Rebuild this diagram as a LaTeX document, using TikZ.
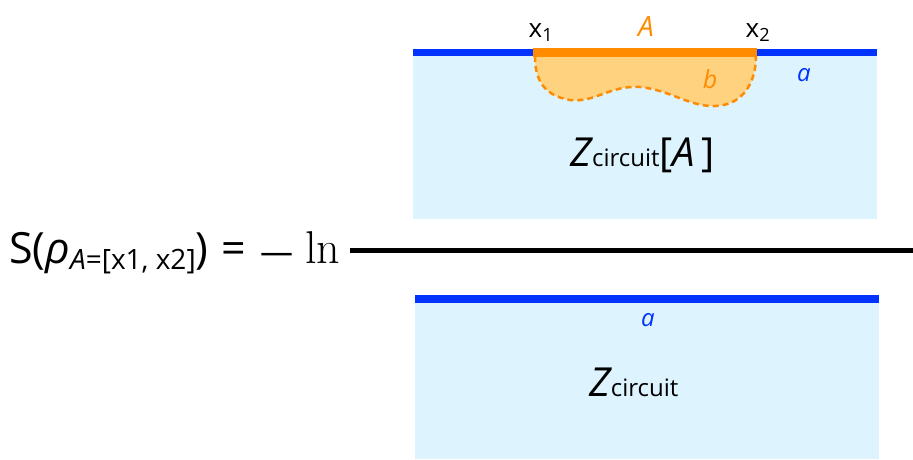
\documentclass[tikz,border=0pt]{standalone}
\usepackage{fontspec}
\setmainfont{Open Sans}
\usepackage{tikz}

\definecolor{boxblue}{RGB}{221,243,253}
\definecolor{lineblue}{RGB}{0,51,255}
\definecolor{regorange}{RGB}{255,140,0}
\definecolor{regfill}{RGB}{255,210,127}

\tikzset{
  lbl/.style = {inner sep = 0pt, anchor = base},
  boundary/.style = {line width = 7pt, lineblue},
}

\begin{document}
\begin{tikzpicture}[x = 1pt, y = -1pt]
\useasboundingbox (0,0) rectangle (913,459);
% upper box
\fill [boxblue] (413,52) rectangle (877,219);
\fill [regfill] (535,56) .. controls (535,75) and (540,95) .. (570,100)
  .. controls (595,103) and (610,85) .. (640,87)
  .. controls (670,90) and (690,107) .. (715,106)
  .. controls (745,105) and (756,80) .. (756,56) -- cycle;
\draw [regorange, line width = 2.5pt, dash pattern = on 6pt off 4pt]
  (535,56) .. controls (535,75) and (540,95) .. (570,100)
  .. controls (595,103) and (610,85) .. (640,87)
  .. controls (670,90) and (690,107) .. (715,106)
  .. controls (745,105) and (756,80) .. (756,56);
\draw [boundary] (413,52) -- (877,52);
\draw [line width = 9pt, regorange] (533,52) -- (757,52);
\node [lbl] (x1) at (541,37) {\fontsize{26}{30}\selectfont x\textsubscript{1}};
\node [lbl] (A) at (646,36) {\fontsize{28}{30}\selectfont\color{regorange}\itshape A};
\node [lbl] (x2) at (758,37) {\fontsize{26}{30}\selectfont x\textsubscript{2}};
\node [lbl] (b) at (710,88) {\fontsize{25}{30}\selectfont\color{regorange}\itshape b};
\node [lbl] (a1) at (804,81) {\fontsize{24}{30}\selectfont\color{lineblue}\itshape a};
\node [lbl] (ZA) at (643,166) {\fontsize{40}{44}\selectfont{\itshape Z}{\fontsize{24}{28}\selectfont circuit}[{\itshape A}\,]};
% fraction bar
\draw [line width = 5pt] (350,250) -- (913,250);
\node [lbl, anchor = base west] (S) at (9,263) {\fontsize{43}{46}\selectfont S({\itshape ρ}\raisebox{-6pt}{\fontsize{28}{30}\selectfont{\itshape A}=[x1, x2]})\hspace{13pt}=\hspace{14pt}\raisebox{0pt}{\fontsize{33}{34}\selectfont —}\hspace{12pt}{\fontspec{Latin Modern Roman}\fontsize{46}{48}\selectfont ln}};
% lower box
\fill [boxblue] (415,299) rectangle (879,459);
\draw [boundary, line width = 8pt] (415,299) -- (879,299);
\node [lbl] (a2) at (648,326) {\fontsize{24}{30}\selectfont\color{lineblue}\itshape a};
\node [lbl] (Z) at (634,396) {\fontsize{40}{44}\selectfont{\itshape Z}{\fontsize{24}{28}\selectfont circuit}};
\end{tikzpicture}
\end{document}
